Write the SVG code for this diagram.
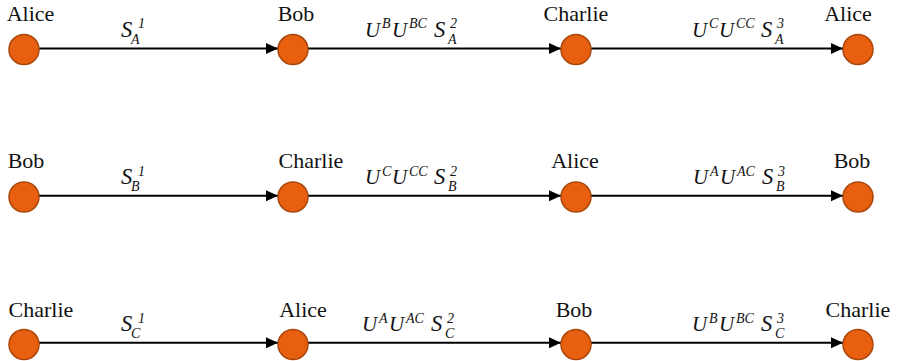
<svg xmlns="http://www.w3.org/2000/svg" width="897" height="361" viewBox="0 0 897 361">
<style>
.node circle{fill:#E8600F;stroke:#A9470C;stroke-width:1.5}
.nl{font-size:22px;fill:#111;text-anchor:middle}
.e line{stroke:#000;stroke-width:2}
.m{font-style:italic;font-size:21px;fill:#111}
.ss{font-style:italic;font-size:22.5px;fill:#111}
.s{font-style:italic;font-size:14px;fill:#111}
</style>
<defs>
<marker id="ah" markerUnits="userSpaceOnUse" markerWidth="13" markerHeight="12" refX="12" refY="6" orient="auto">
<path d="M0,0.5 L12,6 L0,11.5 Z" fill="#000"/>
</marker>
</defs>
<rect width="897" height="361" fill="#fff"/>
<g id="connectors" class="e">
<line x1="39" y1="48.5" x2="278" y2="48.5" marker-end="url(#ah)"/>
<line x1="308" y1="48.5" x2="561" y2="48.5" marker-end="url(#ah)"/>
<line x1="591" y1="48.5" x2="843" y2="48.5" marker-end="url(#ah)"/>
<line x1="39" y1="195.8" x2="278" y2="195.8" marker-end="url(#ah)"/>
<line x1="308" y1="195.8" x2="561" y2="195.8" marker-end="url(#ah)"/>
<line x1="591" y1="195.8" x2="843" y2="195.8" marker-end="url(#ah)"/>
<line x1="39" y1="342.8" x2="278" y2="342.8" marker-end="url(#ah)"/>
<line x1="308" y1="342.8" x2="561" y2="342.8" marker-end="url(#ah)"/>
<line x1="591" y1="342.8" x2="843" y2="342.8" marker-end="url(#ah)"/>
</g>
<g font-family="Liberation Serif, Times New Roman, serif">
<g id="edge-labels">
<g transform="translate(121,36.5)"><text class="ss" x="0" y="0">S</text><text class="s" x="17" y="-8.5">1</text><text class="s" x="10" y="7">A</text></g>
<g transform="translate(365,36.5)"><text class="m" x="0" y="0">U</text><text class="s" x="17" y="-8.5">B</text><text class="m" x="27" y="0">U</text><text class="s" x="44" y="-8.5">BC</text><text class="ss" x="69" y="0">S</text><text class="s" x="85" y="-8.5">2</text><text class="s" x="83" y="7">A</text></g>
<g transform="translate(692,36.5)"><text class="m" x="0" y="0">U</text><text class="s" x="17" y="-8.5">C</text><text class="m" x="27" y="0">U</text><text class="s" x="44" y="-8.5">CC</text><text class="ss" x="69" y="0">S</text><text class="s" x="85" y="-8.5">3</text><text class="s" x="83" y="7">A</text></g>
<g transform="translate(121,184)"><text class="ss" x="0" y="0">S</text><text class="s" x="17" y="-8.5">1</text><text class="s" x="10" y="7">B</text></g>
<g transform="translate(365,184)"><text class="m" x="0" y="0">U</text><text class="s" x="17" y="-8.5">C</text><text class="m" x="27" y="0">U</text><text class="s" x="44" y="-8.5">CC</text><text class="ss" x="69" y="0">S</text><text class="s" x="85" y="-8.5">2</text><text class="s" x="83" y="7">B</text></g>
<g transform="translate(693,184)"><text class="m" x="0" y="0">U</text><text class="s" x="17" y="-8.5">A</text><text class="m" x="27" y="0">U</text><text class="s" x="44" y="-8.5">AC</text><text class="ss" x="69" y="0">S</text><text class="s" x="85" y="-8.5">3</text><text class="s" x="83" y="7">B</text></g>
<g transform="translate(121,331)"><text class="ss" x="0" y="0">S</text><text class="s" x="17" y="-8.5">1</text><text class="s" x="10" y="7">C</text></g>
<g transform="translate(362,331)"><text class="m" x="0" y="0">U</text><text class="s" x="17" y="-8.5">A</text><text class="m" x="27" y="0">U</text><text class="s" x="44" y="-8.5">AC</text><text class="ss" x="69" y="0">S</text><text class="s" x="85" y="-8.5">2</text><text class="s" x="83" y="7">C</text></g>
<g transform="translate(692,331)"><text class="m" x="0" y="0">U</text><text class="s" x="17" y="-8.5">B</text><text class="m" x="27" y="0">U</text><text class="s" x="44" y="-8.5">BC</text><text class="ss" x="69" y="0">S</text><text class="s" x="85" y="-8.5">3</text><text class="s" x="83" y="7">C</text></g>
</g>
<g id="r1-alice" class="node"><circle cx="24" cy="49.5" r="15"/><text class="nl" x="30.5" y="21">Alice</text></g>
<g id="r1-bob" class="node"><circle cx="293" cy="49.5" r="15"/><text class="nl" x="296" y="21">Bob</text></g>
<g id="r1-charlie" class="node"><circle cx="576" cy="49.5" r="15"/><text class="nl" x="576" y="21">Charlie</text></g>
<g id="r1-alice2" class="node"><circle cx="858" cy="49.5" r="15"/><text class="nl" x="848" y="21">Alice</text></g>
<g id="r2-bob" class="node"><circle cx="24" cy="197" r="15"/><text class="nl" x="26" y="168">Bob</text></g>
<g id="r2-charlie" class="node"><circle cx="293" cy="197" r="15"/><text class="nl" x="311" y="168">Charlie</text></g>
<g id="r2-alice" class="node"><circle cx="576" cy="197" r="15"/><text class="nl" x="575" y="168">Alice</text></g>
<g id="r2-bob2" class="node"><circle cx="858" cy="197" r="15"/><text class="nl" x="852" y="168">Bob</text></g>
<g id="r3-charlie" class="node"><circle cx="24" cy="344.5" r="15"/><text class="nl" x="41" y="317">Charlie</text></g>
<g id="r3-alice" class="node"><circle cx="293" cy="344.5" r="15"/><text class="nl" x="303" y="317">Alice</text></g>
<g id="r3-bob" class="node"><circle cx="576" cy="344.5" r="15"/><text class="nl" x="574" y="317">Bob</text></g>
<g id="r3-charlie2" class="node"><circle cx="858" cy="344.5" r="15"/><text class="nl" x="858" y="317">Charlie</text></g>
</g>
</svg>
